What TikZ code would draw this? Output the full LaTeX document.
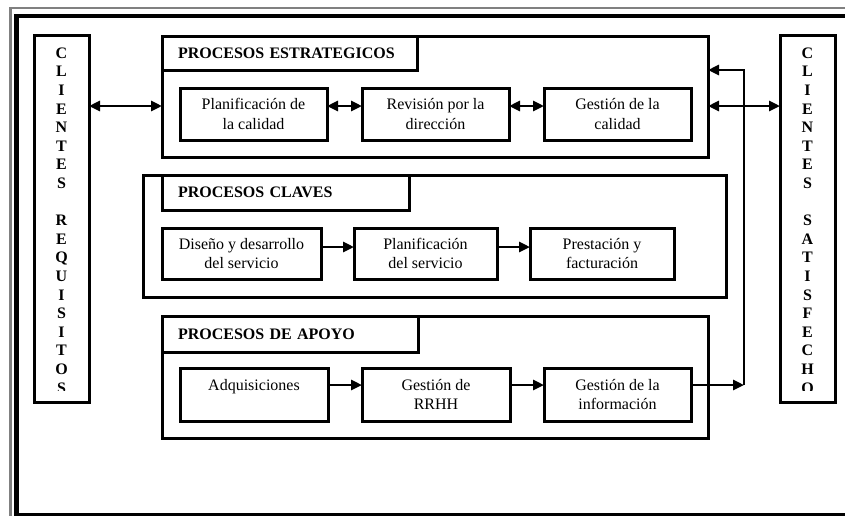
\documentclass[tikz,border=0pt]{standalone}
\usepackage{fontspec}
\setmainfont{Liberation Serif}
\usetikzlibrary{arrows.meta}

\begin{document}
\begin{tikzpicture}[x=1pt,y=-1pt,
            caja/.style={draw,line width=3pt,outer sep=0pt,inner sep=2pt,align=center,font=\fontsize{16}{19.5}\selectfont},
            bloque/.style={draw,line width=3pt,outer sep=0pt,inner sep=0pt,anchor=north west},
            titulo/.style={draw,line width=3pt,outer sep=0pt,inner xsep=16pt,inner ysep=0pt,anchor=north west,align=left,font=\bfseries\fontsize{16}{19}\selectfont},
            letra/.style={anchor=base,inner sep=0pt,font=\bfseries\fontsize{16}{16}\selectfont},
            flecha/.style={line width=2.8pt,-{Triangle[length=11pt,width=10pt]}},
            dflecha/.style={line width=2.8pt,{Triangle[length=11pt,width=10pt]}-{Triangle[length=11pt,width=10pt]}}]
            \clip (0,0) rectangle (845,515);
            % marco
            \draw[gray,line width=2.5pt] (10.7,530) -- (10.7,8) -- (860,8);
            \draw[line width=4.5pt] (16.3,530) -- (16.3,16) -- (860,16);
            \draw[line width=4.5pt] (16.3,515) -- (860,515);
            % clientes
            \node[bloque,minimum width=55pt,minimum height=367pt] (cliReq) at (34,35) {};
            \node[bloque,minimum width=55pt,minimum height=367pt] (cliSat) at (780,35) {};
            \begin{scope}
                \clip (34,35) rectangle (89,390);
                \foreach \ch [count=\i from 0] in {C,L,I,E,N,T,E,S,{},R,E,Q,U,I,S,I,T,O,S}
                    \node[letra] (req\i) at (61.5,{58.3+18.6*\i}) {\ch};
            \end{scope}
            \begin{scope}
                \clip (780,35) rectangle (835,390);
                \foreach \ch [count=\i from 0] in {C,L,I,E,N,T,E,S,{},S,A,T,I,S,F,E,C,H,O}
                    \node[letra] (sat\i) at (807.5,{58.3+18.6*\i}) {\ch};
            \end{scope}
            % procesos estrategicos
            \node[bloque,minimum width=546pt,minimum height=121pt] (estr) at (162,36) {};
            \node[titulo,text width=223pt,minimum height=34pt] (tEstr) at (162,36) {PROCESOS ESTRATEGICOS};
            \node[caja,minimum width=147pt,minimum height=52pt] (plan) at (253.5,114) {Planificación de\\la calidad};
            \node[caja,minimum width=147pt,minimum height=52pt] (rev) at (435.5,114) {Revisión por la\\dirección};
            \node[caja,minimum width=147pt,minimum height=52pt] (gcal) at (617.5,114) {Gestión de la\\calidad};
            % procesos claves
            \node[bloque,minimum width=583pt,minimum height=122pt] (clav) at (143,175) {};
            \node[titulo,text width=215pt,minimum height=35pt] (tClav) at (162,175) {PROCESOS CLAVES};
            \node[caja,minimum width=159pt,minimum height=51pt] (dis) at (241.5,253.5) {Diseño y desarrollo\\del servicio};
            \node[caja,minimum width=143pt,minimum height=51pt] (pser) at (425.5,253.5) {Planificación\\del servicio};
            \node[caja,minimum width=144pt,minimum height=51pt] (prest) at (602,253.5) {Prestación y\\facturación};
            % procesos de apoyo
            \node[bloque,minimum width=546pt,minimum height=122pt] (apo) at (162,316) {};
            \node[titulo,text width=224pt,minimum height=36pt] (tApo) at (162,316) {PROCESOS DE APOYO};
            \node[caja,minimum width=148pt,minimum height=53pt] (adq) at (254,394.5) {Adquisiciones\\~};
            \node[caja,minimum width=148pt,minimum height=53pt] (rrhh) at (436,394.5) {Gestión de\\RRHH};
            \node[caja,minimum width=147pt,minimum height=53pt] (info) at (617.5,394.5) {Gestión de la\\información};
            % flechas
            \coordinate (ya) at (0,106);
            \coordinate (fb) at (744,385);
            \coordinate (fbtop) at (744,70);
            \draw[dflecha] (cliReq.east |- ya) -- (estr.west |- ya);
            \draw[dflecha] (estr.east |- ya) -- (cliSat.west |- ya);
            \draw[dflecha] ([yshift=8pt]plan.east) -- ([yshift=8pt]rev.west);
            \draw[dflecha] ([yshift=8pt]rev.east) -- ([yshift=8pt]gcal.west);
            \draw[flecha] ([yshift=6.5pt]dis.east) -- ([yshift=6.5pt]pser.west);
            \draw[flecha] ([yshift=6.5pt]pser.east) -- ([yshift=6.5pt]prest.west);
            \draw[flecha] (adq.east |- fb) -- (rrhh.west |- fb);
            \draw[flecha] (rrhh.east |- fb) -- (info.west |- fb);
            \draw[flecha] (info.east |- fb) -- (fb);
            \draw[flecha] (fb) -- (fbtop) -- (estr.east |- fbtop);
\end{tikzpicture}
\end{document}
